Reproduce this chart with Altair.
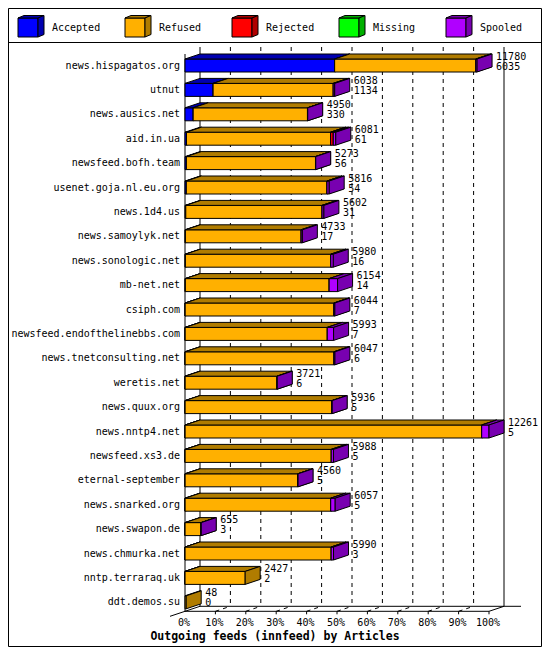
import altair as alt
import pandas as pd

# ---------------- data ----------------
hosts = ["news.hispagatos.org", "utnut", "news.ausics.net", "aid.in.ua",
         "newsfeed.bofh.team", "usenet.goja.nl.eu.org", "news.1d4.us",
         "news.samoylyk.net", "news.sonologic.net", "mb-net.net", "csiph.com",
         "newsfeed.endofthelinebbs.com", "news.tnetconsulting.net", "weretis.net",
         "news.quux.org", "news.nntp4.net", "newsfeed.xs3.de", "eternal-september",
         "news.snarked.org", "news.swapon.de", "news.chmurka.net",
         "nntp.terraraq.uk", "ddt.demos.su"]
offered = [11780, 6038, 4950, 6081, 5273, 5816, 5602, 4733, 5980, 6154, 6044,
           5993, 6047, 3721, 5936, 12261, 5988, 4560, 6057, 655, 5990, 2427, 48]
accepted = [6035, 1134, 330, 61, 56, 54, 31, 17, 16, 14, 7, 7, 6, 6, 5, 5, 5,
            5, 5, 3, 3, 2, 0]
refused = [5695, 4844, 4610, 5810, 5207, 5672, 5496, 4666, 5864, 5800, 5997,
           5731, 6001, 3705, 5921, 11961, 5893, 4545, 5872, 642, 5892, 2425, 48]
rejected = [0, 0, 0, 110, 0, 0, 0, 0, 0, 0, 0, 0, 0, 0, 0, 0, 0, 0, 0, 0, 0, 0, 0]
missing = [0, 0, 0, 0, 0, 0, 0, 0, 0, 0, 0, 0, 0, 0, 0, 0, 0, 0, 0, 0, 0, 0, 0]
spooled = [50, 60, 10, 100, 10, 90, 75, 50, 100, 340, 40, 255, 40, 10, 10, 295,
           90, 10, 180, 10, 95, 0, 0]

series_names = ["Accepted", "Refused", "Rejected", "Missing", "Spooled"]
series_values = [accepted, refused, rejected, missing, spooled]
pct_ticks = [0, 10, 20, 30, 40, 50, 60, 70, 80, 90, 100]
pct_labels = ["0%", "10%", "20%", "30%", "40%", "50%", "60%", "70%", "80%",
              "90%", "100%"]
chart_title = "Outgoing feeds (innfeed) by Articles"

# ---------------- style / layout ----------------
front_colors = ["#0000FF", "#FFB000", "#FF0000", "#00FF00", "#B000FF"]
shade_colors = ["#0000B0", "#B07C00", "#B00000", "#00B000", "#7800B0"]
FONT = "DejaVu Sans Mono"
W, H = 534, 639
X0, PX100 = 177, 304          # front-left edge of bars, length of longest bar (px)
Y0, RS = 57.5, 24.4           # first row centre, row pitch (px)
HALF = 6.5                    # half height of a bar front face (px)
DX, DY = 15, 5                # 3-D depth (px)
GRID_TOP = 39
LEG_X0, LEG_STEP, LEG_Y = 10, 107, 10
LEG_W, LEG_H, LEG_DX, LEG_DY = 20, 19, 6, 2.5

n = len(hosts)
totals = [sum(v[i] for v in series_values) for i in range(n)]
MAX = max(totals)
A = MAX / PX100               # articles per pixel


def xa(px):
    return (px - X0) * A


def yr(py):
    return (py - Y0) / RS


dxa = DX * A
dyr = DY / RS
last = n - 1
floor_front = last + (HALF + 2.5) / RS
floor_back = floor_front - dyr

# ---------------- bar faces ----------------
fronts, polys = [], []
pid = 0


def add_box(s, a0, a1, rt, rb, ddx, ddy):
    global pid
    fronts.append(dict(seg=s, series=series_names[s], x=a0, x2=a1, y=rt, y2=rb))
    top = [(a0, rt), (a1, rt), (a1 + ddx, rt - ddy), (a0 + ddx, rt - ddy), (a0, rt)]
    side = [(a1, rt), (a1 + ddx, rt - ddy), (a1 + ddx, rb - ddy), (a1, rb), (a1, rt)]
    for face in (top, side):
        for k, (vx, vy) in enumerate(face):
            polys.append(dict(seg=s, series=series_names[s], pid=pid, vi=k, x=vx, y=vy))
        pid += 1


for i in range(n):
    a = 0
    rt, rb = i - HALF / RS, i + HALF / RS
    for s, vals in enumerate(series_values):
        v = vals[i]
        if v <= 0:
            continue
        add_box(s, a, a + v, rt, rb, dxa, dyr)
        a += v

# legend cubes
leg_labels = []
for s, name in enumerate(series_names):
    cx = LEG_X0 + LEG_STEP * s
    add_box(s, xa(cx), xa(cx + LEG_W), yr(LEG_Y), yr(LEG_Y + LEG_H),
            LEG_DX * A, LEG_DY / RS)
    leg_labels.append(dict(series=name, x=xa(cx + 34), y=yr(LEG_Y + LEG_H / 2)))

fronts_df = pd.DataFrame(fronts)
polys_df = pd.DataFrame(polys)

xscale = alt.Scale(domain=[xa(0), xa(W)], nice=False, zero=False)
yscale = alt.Scale(domain=[yr(0), yr(H)], nice=False, zero=False, reverse=True)


def X(f):
    return alt.X(f, type="quantitative", scale=xscale, axis=None)


def Y(f):
    return alt.Y(f, type="quantitative", scale=yscale, axis=None)


# ---------------- frame, grid, floor ----------------
solid, dashed = [], []
y_top = yr(GRID_TOP)
for p in pct_ticks:
    xf = p / 100 * MAX
    seg = dict(x=xf + dxa, y=y_top, x2=xf + dxa, y2=floor_back)
    (solid if p in (0, 100) else dashed).append(seg)
    if p > 0:
        solid.append(dict(x=xf, y=floor_front, x2=xf, y2=floor_front + 3 / RS))
    if 0 < p < 100:
        dashed.append(dict(x=xf, y=floor_front, x2=xf + dxa, y2=floor_back))
solid.append(dict(x=0, y=-HALF / RS - dyr, x2=0, y2=floor_front))
solid.append(dict(x=0, y=floor_front, x2=MAX, y2=floor_front))
solid.append(dict(x=dxa, y=floor_back, x2=MAX + dxa + 17 * A, y2=floor_back))
solid.append(dict(x=-dxa, y=floor_front + dyr, x2=0, y2=floor_front))
solid.append(dict(x=MAX, y=floor_front, x2=MAX + dxa, y2=floor_back))
solid.append(dict(x=0, y=floor_front, x2=dxa, y2=floor_back))

solid_df = pd.DataFrame(solid)
dashed_df = pd.DataFrame(dashed)

grid_dashed = alt.Chart(dashed_df).mark_rule(color="black", strokeWidth=1, strokeDash=[4, 4]).encode(
    x=X("x"), y=Y("y"), x2="x2", y2="y2")
grid_solid = alt.Chart(solid_df).mark_rule(color="black", strokeWidth=1).encode(
    x=X("x"), y=Y("y"), x2="x2", y2="y2")

frame = alt.Chart(pd.DataFrame({"k": [0]})).mark_rect(
    fill=None, stroke="black", strokeWidth=1).encode(
    x=alt.value(0.5), x2=alt.value(W - 0.5), y=alt.value(0.5), y2=alt.value(H - 0.5))
sep = alt.Chart(pd.DataFrame({"k": [0]})).mark_rule(color="black", strokeWidth=1).encode(
    x=alt.value(0), x2=alt.value(W), y=alt.value(34.5))

# ---------------- bars (segment by segment) ----------------
front_color = alt.Color("series:N", scale=alt.Scale(domain=series_names, range=front_colors),
                        legend=None)
shade_fill = alt.Fill("series:N", scale=alt.Scale(domain=series_names, range=shade_colors),
                      legend=None)

bar_layers = []
for s in range(len(series_names)):
    f = alt.Chart(fronts_df).transform_filter(alt.datum.seg == s).mark_rect(
        stroke="black", strokeWidth=1).encode(
        x=X("x"), x2="x2", y=Y("y"), y2="y2", color=front_color)
    p = alt.Chart(polys_df).transform_filter(alt.datum.seg == s).mark_line(
        stroke="black", strokeWidth=1, strokeJoin="miter").encode(
        x=X("x"), y=Y("y"), detail="pid:N", order=alt.Order("vi:Q"), fill=shade_fill)
    bar_layers += [f, p]

# ---------------- texts ----------------
rows_df = pd.DataFrame({"host": hosts, "row": list(range(n)), "zero": [0] * n,
                        "total": totals, "offered": offered, "accepted": accepted})
txt = dict(font=FONT, fontSize=10, color="black", baseline="middle")

host_text = alt.Chart(rows_df).mark_text(align="right", dx=-5, **txt).encode(
    x=X("zero"), y=Y("row"), text="host:N")
off_text = alt.Chart(rows_df).mark_text(align="left", dx=DX + 4, dy=-9, **txt).encode(
    x=X("total"), y=Y("row"), text="offered:Q")
acc_text = alt.Chart(rows_df).mark_text(align="left", dx=DX + 4, dy=1, **txt).encode(
    x=X("total"), y=Y("row"), text="accepted:Q")

ticks_df = pd.DataFrame({"pos": [p / 100 * MAX for p in pct_ticks], "label": pct_labels,
                         "row": [last] * len(pct_ticks)})
tick_text = alt.Chart(ticks_df).mark_text(align="center", dx=-1, dy=21, **txt).encode(
    x=X("pos"), y=Y("row"), text="label:N")

leg_text = alt.Chart(pd.DataFrame(leg_labels)).mark_text(align="left", **txt).encode(
    x=X("x"), y=Y("y"), text="series:N")

title_text = alt.Chart(pd.DataFrame({"t": [chart_title]})).mark_text(
    font=FONT, fontSize=11.5, fontWeight="bold", color="black", align="center",
    baseline="middle").encode(x=alt.value(W / 2), y=alt.value(629), text="t:N")

chart = alt.layer(
    grid_dashed, grid_solid, *bar_layers, host_text, off_text, acc_text,
    tick_text, leg_text, title_text, sep, frame
).properties(
    width=W, height=H, autosize=alt.AutoSizeParams(type="none"), padding=0,
    background="white"
).configure_view(stroke=None)

chart.save("out.html", embed_options={"renderer": "svg", "actions": False})
